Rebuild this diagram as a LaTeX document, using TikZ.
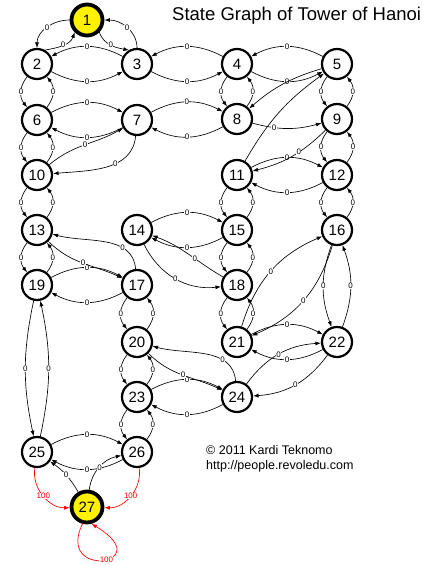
\documentclass[tikz,border=0pt]{standalone}
\usepackage{fontspec}
\setmainfont{Liberation Sans}
\usetikzlibrary{arrows.meta}
\begin{document}
\begin{tikzpicture}[x=1pt,y=1pt,
  st/.style={circle,draw,line width=2.2pt,minimum size=30pt,inner sep=0pt,font=\fontsize{15}{15}\selectfont},
  goal/.style={st,fill=yellow,line width=3.8pt,minimum size=31pt},
  ed/.style={-{Latex[length=5.5pt,width=4pt]},line width=0.65pt},
  red ed/.style={ed,red},
  lb/.style={fill=white,inner sep=0.3pt,font=\fontsize{8}{8}\selectfont},
  rlb/.style={lb,text=red},
  vb/.style={bend right=38,looseness=1.1},
]
\useasboundingbox (0,0) rectangle (439,-565);
% nodes
\node[goal] (n1) at (87,-20) {1};
\node[st] (n2) at (37,-64) {2};
\node[st] (n3) at (137,-64) {3};
\node[st] (n4) at (237,-64) {4};
\node[st] (n5) at (337,-64) {5};
\node[st] (n6) at (37,-120) {6};
\node[st] (n7) at (137,-120) {7};
\node[st] (n8) at (237,-119) {8};
\node[st] (n9) at (337,-119) {9};
\node[st] (n10) at (37,-175) {10};
\node[st] (n11) at (237,-175) {11};
\node[st] (n12) at (337,-175) {12};
\node[st] (n13) at (37,-230) {13};
\node[st] (n14) at (137,-230) {14};
\node[st] (n15) at (237,-230) {15};
\node[st] (n16) at (337,-230) {16};
\node[st] (n19) at (37,-285) {19};
\node[st] (n17) at (137,-285) {17};
\node[st] (n18) at (237,-285) {18};
\node[st] (n20) at (137,-342) {20};
\node[st] (n21) at (237,-342) {21};
\node[st] (n22) at (337,-342) {22};
\node[st] (n23) at (137,-397) {23};
\node[st] (n24) at (237,-397) {24};
\node[st] (n25) at (37,-452) {25};
\node[st] (n26) at (137,-452) {26};
\node[goal] (n27) at (87,-507) {27};
% texts
\node[anchor=base west,inner sep=0,font=\fontsize{18.5}{20}\selectfont] (title) at (172,-20) {State Graph of Tower of Hanoi};
\node[anchor=base west,inner sep=0,font=\fontsize{12.5}{14}\selectfont] (cp1) at (206,-454) {© 2011 Kardi Teknomo};
\node[anchor=base west,inner sep=0,font=\fontsize{12.5}{14}\selectfont] (cp2) at (206,-469) {http://people.revoledu.com};
% vertical pairs
\foreach \a/\b in {2/6,4/8,5/9,6/10,9/12,10/13,11/15,12/16,13/19,15/18,18/21,17/20,20/23,23/26}{
  \draw[ed] (n\a) to[vb] node[lb]{0} (n\b);
  \draw[ed] (n\b) to[vb] node[lb]{0} (n\a);
}
% horizontal pairs, top arc left to right
\foreach \a/\b in {6/7,7/8,11/12,14/15,19/17,21/22,23/24,25/26}{
  \draw[ed] (n\a) to[bend left=28] node[lb]{0} (n\b);
  \draw[ed] (n\b) to[bend left=28] node[lb]{0} (n\a);
}
% horizontal pairs, top arc right to left
\foreach \a/\b in {2/3,3/4,4/5}{
  \draw[ed] (n\a) to[bend right=28] node[lb]{0} (n\b);
  \draw[ed] (n\b) to[bend right=28] node[lb]{0} (n\a);
}
% top corner
\draw[ed] (n1) to[out=180,in=90] node[lb]{0} (n2);
\draw[ed] (n2.60) to[out=10,in=-110] node[lb]{0} (n1.-135);
\draw[ed] (n3) to[out=90,in=0] node[lb]{0} (n1);
\draw[ed] (n1.-45) to[out=-70,in=170] node[lb]{0} (n3.120);
% 5,8,9,11
\draw[ed] (n5) to[bend right=12] (n8);
\draw[ed] (n8) to[bend right=15] node[lb,pos=0.3]{0} (n9);
\draw[ed] (n11) to[bend left=12] (n5);
\draw[ed] (n9) to[bend left=15] node[lb,pos=0.4]{0} (n11);
% 7-10
\draw[ed] (n10) to[out=40,in=-150] node[lb]{0} (n7);
\draw[ed] (n7) to[out=-95,in=5] node[lb,pos=0.4]{0} (n10);
% 13-17
\draw[ed] (n17) to[out=95,in=-15] node[lb,pos=0.3]{0} (n13);
\draw[ed] (n13) to[out=-45,in=155] node[lb]{0} (n17);
% 14-18
\draw[ed] (n18) to[out=150,in=-20] node[lb,pos=0.4]{0} (n14);
\draw[ed] (n14) to[bend right=35] node[lb]{0} (n18);
% 20-24
\draw[ed] (n24) to[out=95,in=-15] node[lb,pos=0.3]{0} (n20);
\draw[ed] (n20) to[out=-45,in=155] node[lb]{0} (n24);
% 16-21
\draw[ed] (n21) to[bend left=25] node[lb]{0} (n16);
\draw[ed] (n16) to[bend left=25] node[lb]{0} (n21);
% 16-22
\draw[ed] (n16) to[bend right=20] node[lb]{0} (n22);
\draw[ed] (n22) to[bend right=20] node[lb]{0} (n16);
% 22-24
\draw[ed] (n24) to[bend left=25] node[lb]{0} (n22);
\draw[ed] (n22) to[bend left=25] node[lb]{0} (n24);
% 19-25
\draw[ed] (n19) to[bend right=12] node[lb]{0} (n25);
\draw[ed] (n25) to[bend right=12] node[lb]{0} (n19);
% goal
\draw[ed] (n27) to[bend right=12] node[lb]{0} (n25);
\draw[ed] (n27) to[bend left=35] node[lb]{0} (n26);
\draw[red ed] (n25) to[bend right=50] node[rlb]{100} (n27);
\draw[red ed] (n26) to[bend left=50] node[rlb]{100} (n27);
\draw[red ed] (n27.255) .. controls (55,-580) and (160,-565) .. node[rlb,pos=0.55]{100} (n27.285);
\end{tikzpicture}
\end{document}
